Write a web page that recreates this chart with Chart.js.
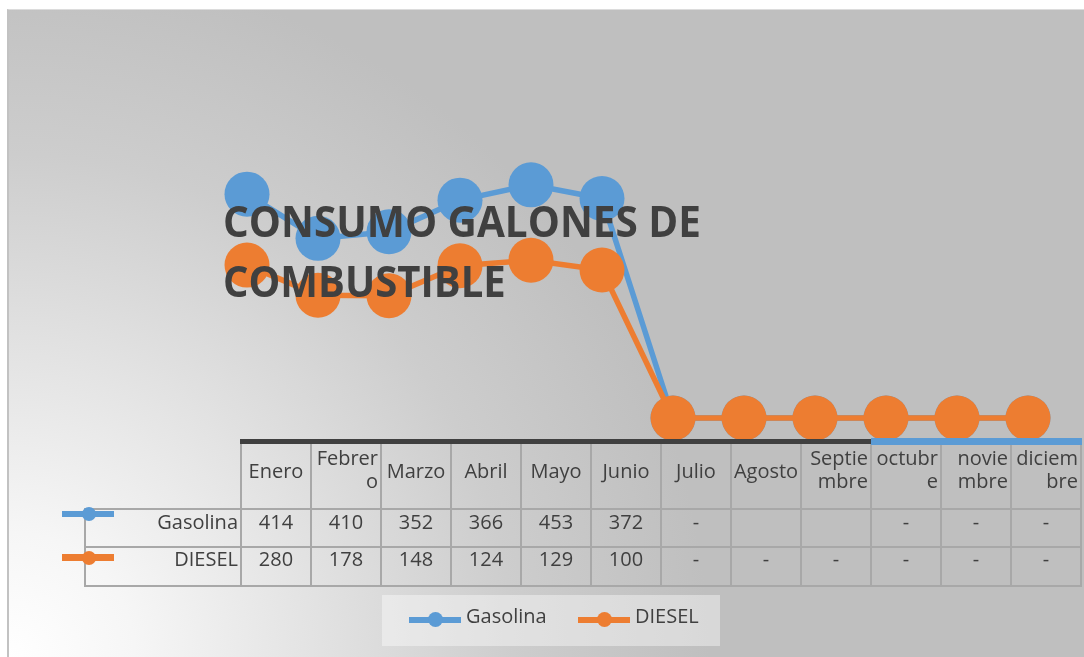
<!DOCTYPE html>
<html>
<head>
<meta charset="utf-8">
<script src="https://cdn.jsdelivr.net/npm/chart.js@4.4.0/dist/chart.umd.min.js"></script>
<style>
body{margin:0;width:1084px;height:657px;position:relative;overflow:hidden;background:#fff;font-family:"Open Sans",sans-serif;color:#404040;}
#fondo{position:absolute;left:7px;top:9px;width:1077px;height:648px;box-sizing:border-box;border-left:2px solid #c2c2c2;border-top:1px solid #dcdcdc;
  background:radial-gradient(circle 700px at 0px 648px,#ffffff 0%,#f6f6f6 18%,#e4e4e4 42%,#cdcdcd 72%,#bfbfbf 100%);}
#grafico{position:absolute;left:0;top:0;}
.t{position:absolute;white-space:pre;font-size:20px;line-height:23px;}
.ln{position:absolute;background:#a8a8a8;}
#titulo{position:absolute;left:223px;top:191px;font-weight:bold;font-size:43px;line-height:60px;color:#404040;white-space:nowrap;}
#titulo span{display:inline-block;transform-origin:0 0;}
#leyenda{position:absolute;left:382px;top:595px;width:338px;height:51px;background:rgba(255,255,255,0.4);}
.marca{position:absolute;height:6px;}
.punto{position:absolute;border-radius:50%;}
</style>
</head>
<body>
<div id="fondo"></div>
<canvas id="grafico" width="1084" height="657"></canvas>
<div id="titulo"><span id="tl1">CONSUMO GALONES DE</span><br><span id="tl2">COMBUSTIBLE</span></div>
<div id="tabla"></div>
<div id="leyenda"></div>
<script>
// datos
var meses = ['Enero','Febrero','Marzo','Abril','Mayo','Junio','Julio','Agosto','Septiembre','octubre','noviembre','diciembre'];
var encabezados = ['Enero','Febrer\no','Marzo','Abril','Mayo','Junio','Julio','Agosto','Septie\nmbre','octubr\ne','novie\nmbre','diciem\nbre'];
// valores tal como se ven trazados en la grafica
var gasolinaTrazo = [410, 329, 341, 399, 427, 402, 0, 0, 0, 0, 0, 0];
var dieselTrazo = [280, 225, 224, 279, 289, 271, 0, 0, 0, 0, 0, 0];
// valores de la tabla de datos
var gasolinaTabla = ['414','410','352','366','453','372','-','','','-','-','-'];
var dieselTabla = ['280','178','148','124','129','100','-','-','-','-','-','-'];
var series = ['Gasolina', 'DIESEL'];
var colores = ['#5b9bd5', '#ed7d31'];

var ctx = document.getElementById('grafico').getContext('2d');
var chart = new Chart(ctx, {
    type: 'line',
    data: {
        labels: meses,
        datasets: [{
            label: series[0],
            data: gasolinaTrazo,
            borderColor: colores[0],
            backgroundColor: colores[0],
            pointBackgroundColor: colores[0],
            order: 2,
            clip: false
        },{
            label: series[1],
            data: dieselTrazo,
            borderColor: colores[1],
            backgroundColor: colores[1],
            pointBackgroundColor: colores[1],
            order: 1,
            clip: false
        }]
    },
    options: {
        responsive: false,
        animation: false,
        devicePixelRatio: 1,
        layout: {padding: {left: 247, right: 56, top: 145, bottom: 239}},
        plugins: {legend: {display: false}, title: {display: false}, tooltip: {enabled: false}},
        scales: {
            x: {display: false, offset: false},
            y: {display: false, min: 0, max: 500}
        },
        elements: {
            point: {radius: 22.5, hoverRadius: 22.5, borderWidth: 0},
            line: {borderWidth: 5.5, tension: 0}
        }
    }
});

// ajustar ancho del titulo
var ajustar = function(id, ancho){
    var el = document.getElementById(id);
    el.style.transform = 'scaleX(' + (ancho / el.offsetWidth) + ')';
}
ajustar('tl1', 478);
ajustar('tl2', 283);

// tabla de datos
var tabla = document.getElementById('tabla');
var add = function(cls, css, txt){
    var d = document.createElement('div');
    d.className = cls;
    d.style.cssText = css;
    if(txt != undefined) d.textContent = txt;
    tabla.appendChild(d);
    return d;
}
var x0 = 241, w = 70;
var filas = [509, 547, 586];
// lineas de la cuadricula
for(var i = 0; i <= meses.length; i++){
    add('ln', 'left:' + (x0 + i*w - 1) + 'px;top:444px;width:2px;height:' + (filas[2] - 444 + 1) + 'px;');
}
add('ln', 'left:84px;top:' + filas[0] + 'px;width:2px;height:' + (filas[2] - filas[0] + 1) + 'px;');
for(var j = 0; j < filas.length; j++){
    add('ln', 'left:84px;top:' + (filas[j] - 1) + 'px;width:' + (x0 + meses.length*w - 84 + 1) + 'px;height:2px;');
}
add('ln', 'left:240px;top:438.5px;width:631px;height:5.5px;background:#404040;');
add('ln', 'left:871px;top:438px;width:211px;height:7px;background:' + colores[0] + ';');

for(var i = 0; i < encabezados.length; i++){
    var dos = encabezados[i].indexOf('\n') != -1;
    if(dos){
        add('t', 'left:' + (x0 + i*w - 20) + 'px;top:445.7px;width:' + (w + 17) + 'px;text-align:right;', encabezados[i]);
    } else {
        add('t', 'left:' + (x0 + i*w - 10) + 'px;top:458.7px;width:' + (w + 20) + 'px;text-align:center;', encabezados[i]);
    }
}
var valores = [gasolinaTabla, dieselTabla];
var tops = [510.2, 547.4];
for(var s = 0; s < 2; s++){
    add('t', 'left:86px;top:' + tops[s] + 'px;width:152px;text-align:right;', series[s]);
    for(var i = 0; i < valores[s].length; i++){
        add('t', 'left:' + (x0 + i*w) + 'px;top:' + tops[s] + 'px;width:' + w + 'px;text-align:center;', valores[s][i]);
    }
}
// claves de serie junto a la tabla
var claveY = [514, 557.5];
for(var s = 0; s < 2; s++){
    add('marca', 'left:62px;top:' + (claveY[s] - 3.3) + 'px;width:52px;height:6.6px;background:' + colores[s] + ';');
    add('punto', 'left:' + (89 - 7) + 'px;top:' + (claveY[s] - 7) + 'px;width:14px;height:14px;background:' + colores[s] + ';');
}

// leyenda
var leyenda = document.getElementById('leyenda');
var lx = [27, 196];
for(var s = 0; s < 2; s++){
    var m = document.createElement('div');
    m.className = 'marca';
    m.style.cssText = 'left:' + lx[s] + 'px;top:22.3px;width:52px;background:' + colores[s] + ';';
    leyenda.appendChild(m);
    var p = document.createElement('div');
    p.className = 'punto';
    p.style.cssText = 'left:' + (lx[s] + 26 - 7.5) + 'px;top:17px;width:15px;height:15px;background:' + colores[s] + ';';
    leyenda.appendChild(p);
    var t = document.createElement('div');
    t.className = 't';
    t.style.cssText = 'left:' + (lx[s] + 57) + 'px;top:9px;';
    t.textContent = series[s];
    leyenda.appendChild(t);
}
</script>
</body>
</html>
